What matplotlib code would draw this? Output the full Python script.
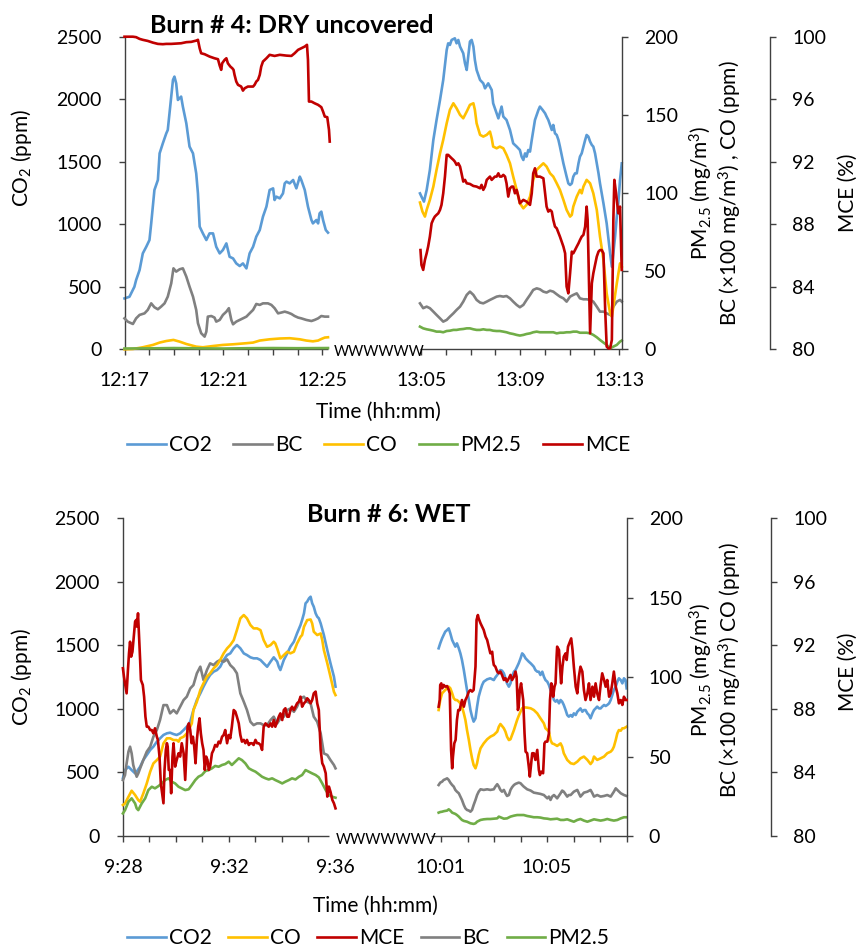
import numpy as np
import matplotlib
matplotlib.use("Agg")
import matplotlib.pyplot as plt

plt.rcParams["font.family"] = ["Lato", "DejaVu Sans"]
plt.rcParams["mathtext.fontset"] = "custom"
plt.rcParams["mathtext.rm"] = "Lato"
plt.rcParams["mathtext.it"] = "Lato:italic"
plt.rcParams["mathtext.bf"] = "Lato:bold"
plt.rcParams["mathtext.default"] = "regular"

C_CO2, C_BC, C_CO, C_PM, C_MCE = "#5B9BD5", "#808080", "#FFC000", "#70AD47", "#C00000"
AXIS_C = "#404040"
LW = 1.9
FS = 14        # tick labels
FS_T = 15      # axis titles and legend

# The second sampling window of each burn is drawn GAP minutes after the first window start
GAP = 12

# ---------------- Burn #4 (DRY uncovered) ----------------
# window A starts 12:17, window B starts 13:05 (minutes since window start)
b4a_t_co2 = [0, 0.2, 0.4, 0.47, 0.61, 0.74, 0.88, 1.01, 1.08, 1.21, 1.35, 1.42, 1.55, 1.69, 1.75, 1.89, 1.96, 2.02,
             2.09, 2.16, 2.29, 2.36, 2.5, 2.63, 2.77, 2.9, 2.97, 3.04, 3.17, 3.31, 3.44, 3.58, 3.71, 3.85, 3.98, 4.12,
             4.25, 4.39, 4.52, 4.66, 4.79, 4.93, 5.06, 5.2, 5.33, 5.47, 5.6, 5.74, 5.87, 6.01, 6.07, 6.14, 6.28, 6.41,
             6.48, 6.55, 6.68, 6.82, 6.95, 7.09, 7.15, 7.29, 7.42, 7.56, 7.62, 7.76, 7.83, 7.89, 7.96, 8.03, 8.14, 8.23]
b4a_co2 = [407, 420, 500, 554, 634, 767, 820, 874, 1007, 1274, 1354, 1567, 1647, 1727, 1754, 2021, 2154, 2181,
           2127, 1994, 2021, 1941, 1807, 1621, 1567, 1407, 1247, 981, 927, 874, 927, 927, 820, 767, 794, 847,
           740, 727, 687, 666, 687, 647, 767, 820, 901, 954, 1061, 1141, 1274, 1287, 1194, 1221, 1207, 1247,
           1327, 1341, 1327, 1354, 1287, 1381, 1354, 1274, 1141, 1034, 1007, 1034, 1007, 1087, 1101, 1034, 954, 933]

b4a_t_bc = [0, 0.13, 0.34, 0.47, 0.61, 0.81, 0.94, 1.08, 1.21, 1.35, 1.48, 1.62, 1.75, 1.89, 1.98, 2.09, 2.23, 2.36,
            2.5, 2.63, 2.77, 2.9, 2.97, 3.1, 3.24, 3.31, 3.37, 3.51, 3.64, 3.71, 3.85, 3.98, 4.12, 4.22, 4.32, 4.39,
            4.52, 4.66, 4.79, 4.93, 5.06, 5.2, 5.33, 5.47, 5.6, 5.8, 5.94, 6.07, 6.21, 6.34, 6.48, 6.61, 6.75, 6.88,
            7.02, 7.15, 7.35, 7.56, 7.69, 7.83, 7.96, 8.1, 8.23]
b4a_bc = [19.8, 17.7, 16.2, 19.8, 22, 23, 25.2, 29.4, 26.9, 25.6, 27.3, 29.4, 33.7, 42.2, 51.8, 49.7, 51.2, 51.8,
          46.5, 40.1, 33.7, 25.2, 16.7, 10.3, 8.1, 11.3, 20.9, 21.3, 20.3, 17.7, 18.8, 22, 24.1, 26.3, 18.8, 16,
          17.7, 18.8, 19.8, 20.9, 23, 25.2, 29, 28.4, 29.4, 29.4, 28.4, 26.3, 23, 23.5, 24.1, 23.5, 22.6, 21.3,
          20.3, 19.8, 18.8, 18.1, 18.8, 19.8, 21.3, 20.9, 20.9]

b4a_t_co = [0, 0.34, 0.74, 1.15, 1.42, 1.69, 1.98, 2.23, 2.5, 2.9, 3.17, 3.58, 3.98, 4.39, 4.93, 5.2, 5.47, 5.87,
            6.28, 6.68, 7.09, 7.35, 7.62, 7.83, 7.96, 8.1, 8.23]
b4a_co = [0, 0.2, 1.3, 2.8, 4.3, 5.3, 6.0, 4.9, 3.4, 1.7, 1.3, 2.1, 2.8, 3.2, 3.9, 4.3, 5.6, 6.4,
          6.9, 7.1, 6.4, 5.6, 5.1, 5.6, 6.6, 7.5, 7.7]

b4a_t_pm = [0, 1, 2, 3, 4, 5, 6, 7, 8.23]
b4a_pm = [0.5, 0.6, 0.8, 0.6, 0.5, 0.7, 0.8, 0.7, 0.8]

b4a_t_mce = [0, 0.13, 0.34, 0.47, 0.61, 0.74, 0.94, 1.15, 1.35, 1.55, 1.69, 1.89, 2.09, 2.29, 2.5, 2.7, 2.9, 2.97,
             3.04, 3.1, 3.24, 3.44, 3.64, 3.78, 3.85, 3.91, 3.95, 4.05, 4.12, 4.18, 4.28, 4.36, 4.41, 4.45, 4.52,
             4.59, 4.72, 4.79, 4.86, 4.99, 5.2, 5.26, 5.33, 5.4, 5.47, 5.53, 5.6, 5.74, 5.87, 6.07, 6.28, 6.55,
             6.75, 6.88, 7.02, 7.15, 7.29, 7.38, 7.42, 7.46, 7.56, 7.69, 7.83, 7.96, 8.03, 8.1, 8.2, 8.27, 8.3]
b4a_mce = [100.0, 100.0, 100.0, 99.97, 99.86, 99.8, 99.73, 99.62, 99.54, 99.52, 99.54, 99.54, 99.56, 99.58, 99.65,
           99.67, 99.75, 99.8, 99.26, 98.94, 98.88, 98.73, 98.62, 98.56, 98.15, 97.88, 98.3, 98.52, 98.62, 98.3,
           98.09, 97.98, 97.88, 97.56, 97.13, 96.92, 96.81, 96.55, 96.7, 96.81, 96.81, 96.92, 97.13, 97.24, 97.56,
           98.09, 98.41, 98.62, 98.84, 98.77, 98.84, 98.79, 98.77, 98.94, 99.16, 99.26, 99.37, 99.48, 98.52,
           95.85, 95.85, 95.74, 95.64, 95.49, 95.21, 94.89, 94.85, 94.04, 93.29]

b4b_t_co2 = [-0.05, 0.01, 0.11, 0.22, 0.35, 0.49, 0.62, 0.76, 0.89, 1.03, 1.09, 1.16, 1.23, 1.36, 1.43, 1.5, 1.57,
             1.7, 1.77, 1.84, 1.9, 1.97, 2.04, 2.11, 2.17, 2.24, 2.31, 2.38, 2.51, 2.58, 2.71, 2.85, 2.91, 3.05,
             3.12, 3.25, 3.32, 3.45, 3.59, 3.72, 3.86, 3.99, 4.06, 4.13, 4.2, 4.26, 4.33, 4.4, 4.47, 4.6, 4.74,
             4.8, 4.91, 5.01, 5.07, 5.14, 5.28, 5.34, 5.41, 5.48, 5.55, 5.61, 5.75, 5.88, 5.95, 6.02, 6.09, 6.15,
             6.22, 6.29, 6.36, 6.42, 6.49, 6.63, 6.69, 6.76, 6.83, 6.9, 6.96, 7.03, 7.1, 7.17, 7.23, 7.3, 7.37,
             7.5, 7.64, 7.71, 7.77, 7.84, 7.91, 7.97, 8.04, 8.11]
b4b_co2 = [1247, 1221, 1181, 1274, 1434, 1674, 1834, 1994, 2154, 2394, 2447, 2434, 2474, 2487, 2447, 2474, 2421,
           2367, 2287, 2234, 2341, 2461, 2474, 2421, 2314, 2234, 2194, 2154, 2127, 2087, 2127, 2074, 1967, 1887,
           1847, 1941, 1861, 1834, 1754, 1647, 1621, 1594, 1541, 1514, 1567, 1541, 1594, 1581, 1674, 1834, 1914,
           1941, 1914, 1887, 1861, 1834, 1754, 1794, 1727, 1714, 1674, 1621, 1487, 1381, 1327, 1314, 1327, 1381,
           1407, 1407, 1487, 1541, 1567, 1674, 1714, 1701, 1661, 1634, 1621, 1567, 1487, 1407, 1327, 1247, 1167,
           1007, 767, 660, 767, 901, 1061, 1167, 1354, 1487]

b4b_t_co = [-0.05, 0.05, 0.15, 0.22, 0.35, 0.49, 0.62, 0.76, 0.89, 1.03, 1.16, 1.3, 1.43, 1.57, 1.7, 1.84, 1.97,
            2.11, 2.17, 2.24, 2.38, 2.51, 2.65, 2.78, 2.85, 2.91, 3.05, 3.18, 3.32, 3.45, 3.59, 3.72, 3.86, 3.99,
            4.13, 4.26, 4.4, 4.53, 4.67, 4.8, 4.94, 5.07, 5.21, 5.34, 5.48, 5.61, 5.75, 5.88, 6.02, 6.09, 6.15,
            6.29, 6.42, 6.49, 6.56, 6.69, 6.83, 6.96, 7.1, 7.23, 7.37, 7.5, 7.64, 7.71, 7.77, 7.91, 8.04, 8.11]
b4b_co = [93.9, 88.1, 84.9, 89.2, 95.6, 104.1, 114.8, 125.4, 134, 144.6, 153.2, 157.4, 154.2, 150, 147.8, 152.1,
          156.4, 157.4, 153.2, 144.6, 137.2, 136.1, 137.2, 139.3, 135, 129.7, 128.6, 129.7, 128.6, 124.4, 119,
          110.5, 102, 93.4, 90.2, 92.4, 97.7, 108.4, 114.8, 116.9, 119, 116.9, 112.6, 110.5, 106.2, 102, 95.6,
          89.2, 84.9, 86, 91.3, 97.7, 102, 99.8, 104.1, 108.4, 106.2, 99.8, 89.2, 72.1, 57.2, 35.8, 23, 20.9,
          27.3, 42.2, 55, 52.9]

b4b_t = [-0.05, 0.08, 0.22, 0.35, 0.49, 0.62, 0.76, 0.89, 1.03, 1.16, 1.3, 1.43, 1.57, 1.7, 1.84, 1.97, 2.11,
         2.24, 2.38, 2.51, 2.65, 2.78, 2.91, 3.05, 3.18, 3.32, 3.45, 3.59, 3.72, 3.86, 3.99, 4.13, 4.26, 4.4,
         4.53, 4.67, 4.8, 4.94, 5.07, 5.21, 5.34, 5.48, 5.61, 5.75, 5.88, 6.02, 6.15, 6.29, 6.42, 6.56, 6.69,
         6.83, 6.96, 7.1, 7.23, 7.37, 7.5, 7.64, 7.77, 7.91, 8.04, 8.11]
b4b_bc = [29.4, 26.3, 27.3, 26.3, 24.1, 22, 19.8, 17.7, 18.8, 20.9, 23, 25.2, 27.3, 30.5, 34.8, 36.9, 34.8, 31.6,
          29.9, 29.4, 30.5, 31.6, 32.6, 33.7, 34.1, 33.7, 34.1, 32.6, 30.5, 28.4, 26.9, 28.4, 31.6, 34.8, 38, 39,
          38.4, 36.9, 36.3, 37.5, 36.9, 35.2, 33.7, 32.6, 30.5, 33.7, 34.8, 35.8, 32.6, 32, 32, 31.6, 30.5, 27.3,
          24.1, 24.1, 23, 22, 27.3, 30.5, 31.6, 30.5]
b4b_pm = [14.5, 13.4, 12.8, 12.4, 11.9, 11.3, 11.3, 10.9, 11.7, 11.9, 12.4, 12.4, 12.8, 13.0, 13.4, 13.4, 12.8,
          12.4, 12.4, 12.8, 12.4, 12.4, 11.9, 11.7, 11.7, 11.3, 10.9, 10.2, 9.8, 9.2, 8.8, 9.2, 9.8, 10.2, 10.9,
          11.3, 10.9, 10.9, 10.9, 10.9, 10.9, 10.2, 10.6, 10.6, 10.9, 10.9, 11.3, 11.3, 10.6, 10.6, 10.6, 10.2,
          9.2, 7.7, 6.0, 4.3, 2.8, 0.6, 1.7, 2.8, 4.9, 5.6]

b4b_t_mce = [-0.03, 0.01, 0.08, 0.15, 0.22, 0.28, 0.35, 0.42, 0.49, 0.55, 0.62, 0.69, 0.76, 0.82, 0.89, 0.96,
             1.03, 1.09, 1.16, 1.23, 1.3, 1.36, 1.43, 1.5, 1.57, 1.63, 1.7, 1.77, 1.84, 1.97, 2.11, 2.24, 2.38,
             2.44, 2.51, 2.58, 2.65, 2.78, 2.85, 2.98, 3.05, 3.12, 3.18, 3.25, 3.32, 3.39, 3.45, 3.52, 3.59, 3.66,
             3.72, 3.79, 3.86, 3.93, 3.99, 4.06, 4.13, 4.26, 4.4, 4.47, 4.53, 4.6, 4.67, 4.8, 4.94, 5.01, 5.07,
             5.14, 5.21, 5.28, 5.34, 5.41, 5.48, 5.61, 5.75, 5.82, 5.88, 5.95, 6.02, 6.09, 6.15, 6.22, 6.29, 6.36,
             6.42, 6.49, 6.56, 6.63, 6.69, 6.73, 6.76, 6.83, 6.9, 6.96, 7.03, 7.1, 7.17, 7.23, 7.3, 7.37, 7.44,
             7.5, 7.57, 7.64, 7.71, 7.77, 7.81, 7.88, 7.97, 8.04, 8.11]
b4b_mce = [86.35, 85.4, 85.08, 85.72, 86.14, 86.57, 87.21, 88.06, 88.32, 88.49, 88.6, 88.7, 88.92, 89.24, 89.98,
           91.05, 92.44, 92.44, 92.33, 92.22, 92.12, 92.01, 91.8, 91.9, 91.69, 91.26, 90.73, 90.84, 90.62, 90.58,
           90.45, 90.41, 90.3, 90.52, 90.2, 90.41, 90.84, 91.05, 90.84, 91.05, 91.05, 91.26, 91.05, 91.05, 91.16,
           91.05, 90.62, 89.77, 90.3, 90.41, 90.41, 89.98, 90.2, 89.77, 89.34, 89.45, 89.56, 89.45, 89.24, 89.98,
           91.26, 91.58, 91.05, 91.05, 90.94, 89.98, 89.13, 88.81, 88.92, 88.81, 88.28, 87.85, 87.74, 87.21,
           86.57, 86.14, 84.01, 83.58, 84.86, 86.25, 86.14, 86.35, 86.57, 86.78, 86.99, 87.21, 87.32, 87.85,
           89.13, 88.28, 86.14, 81.02, 84.22, 84.86, 85.4, 85.93, 86.25, 86.35, 86.35, 86.14, 82.52, 80.17,
           80.06, 80.06, 80.6, 88.28, 90.84, 89.98, 88.7, 89.13, 85.08]

# ---------------- Burn #6 (WET) ----------------
# window A starts 9:28, window B starts 10:01
b6a_t_co2 = [0, 0.08, 0.21, 0.33, 0.46, 0.52, 0.65, 0.77, 0.9, 1.03, 1.15, 1.28, 1.4, 1.53, 1.66, 1.78, 1.91,
             2.03, 2.16, 2.29, 2.41, 2.54, 2.66, 2.79, 2.92, 3.04, 3.17, 3.29, 3.42, 3.55, 3.67, 3.8, 3.93, 4.05,
             4.18, 4.3, 4.43, 4.56, 4.68, 4.81, 4.93, 5.06, 5.19, 5.31, 5.44, 5.57, 5.69, 5.82, 5.88, 5.94, 6.07,
             6.2, 6.32, 6.45, 6.57, 6.7, 6.76, 6.83, 6.89, 6.95, 7.02, 7.08, 7.14, 7.2, 7.27, 7.33, 7.39, 7.46,
             7.58, 7.71, 7.83, 7.96, 8.02]
b6a_co2 = [454, 519, 545, 519, 493, 506, 545, 598, 637, 677, 703, 742, 768, 795, 808, 813, 802, 795, 808, 834,
           860, 900, 991, 1070, 1122, 1175, 1227, 1267, 1293, 1306, 1332, 1385, 1424, 1437, 1477, 1503, 1477,
           1437, 1424, 1406, 1398, 1398, 1385, 1359, 1332, 1372, 1406, 1372, 1332, 1306, 1385, 1437, 1490, 1529,
           1595, 1660, 1700, 1752, 1831, 1844, 1870, 1883, 1831, 1804, 1752, 1726, 1713, 1673, 1582, 1463, 1359,
           1254, 1175]

b6a_t_co = [0, 0.08, 0.21, 0.33, 0.46, 0.58, 0.65, 0.77, 0.9, 1.03, 1.15, 1.28, 1.4, 1.53, 1.66, 1.78, 1.91,
            2.03, 2.1, 2.16, 2.29, 2.41, 2.54, 2.6, 2.66, 2.79, 2.92, 3.04, 3.17, 3.29, 3.42, 3.55, 3.67, 3.8,
            3.93, 4.05, 4.18, 4.3, 4.43, 4.56, 4.68, 4.81, 4.93, 5.06, 5.19, 5.31, 5.44, 5.57, 5.69, 5.75, 5.82,
            5.94, 6.07, 6.2, 6.32, 6.45, 6.57, 6.7, 6.76, 6.83, 6.95, 7.08, 7.14, 7.2, 7.33, 7.46, 7.52, 7.58,
            7.71, 7.83, 7.96, 8.02]
b6a_co = [19.5, 20.5, 24.7, 28.5, 25.8, 22.6, 21.6, 26.8, 33.1, 40.5, 45.7, 47.8, 49.9, 58.3, 61.5, 61.5, 60.4,
          60.4, 59.4, 61.5, 62.5, 64.6, 68.8, 70.9, 79.3, 84.5, 91.9, 96.1, 100.3, 102.4, 105.5, 107.6, 110.8, 115,
          118.1, 120.2, 123.3, 129.6, 137, 139.1, 137, 132.8, 130.7, 130.7, 129.6, 123.3, 119.1, 120.2, 122.3,
          121.2, 118.1, 111.8, 113.9, 116, 115, 116, 121.2, 125.4, 126.5, 131.7, 135.9, 136.3, 133.8, 128.6,
          126.5, 127.5, 123.3, 117.1, 108.7, 100.3, 90.8, 88.7]

b6a_t_bc = [0, 0.08, 0.14, 0.21, 0.27, 0.33, 0.39, 0.46, 0.52, 0.58, 0.65, 0.77, 0.9, 1.03, 1.15, 1.28, 1.4,
            1.53, 1.66, 1.78, 1.91, 2.03, 2.16, 2.29, 2.41, 2.54, 2.66, 2.79, 2.92, 3.04, 3.17, 3.29, 3.42, 3.55,
            3.67, 3.8, 3.93, 4.05, 4.18, 4.3, 4.43, 4.56, 4.68, 4.81, 4.93, 5.06, 5.19, 5.31, 5.44, 5.57, 5.69,
            5.82, 5.94, 6.07, 6.2, 6.32, 6.45, 6.57, 6.7, 6.83, 6.95, 7.08, 7.2, 7.33, 7.46, 7.58, 7.71, 7.83,
            7.96, 8.02]
b6a_bc = [35.2, 38.4, 45.7, 53.1, 56.2, 52, 44.7, 40.5, 37.3, 39.4, 42.6, 47.8, 53.1, 56.2, 62.5, 66.7, 73, 82.4,
          82.4, 77.2, 79.3, 77.2, 81.4, 85.6, 87.7, 92.9, 95, 102.4, 106.6, 98.2, 104.5, 108.7, 107.6, 109.7,
          110.8, 109.7, 111.2, 107.6, 105.5, 102.4, 89.8, 84.5, 79.3, 71.9, 69.8, 70.9, 70.9, 69.8, 69.8, 73,
          75.1, 70.9, 74, 75.1, 79.3, 80.3, 78.2, 81.4, 86.6, 87.7, 84.5, 83.5, 75.1, 71.9, 64.6, 52, 51, 47.8,
          44.7, 42.6]

b6a_t_pm = [0, 0.08, 0.21, 0.33, 0.46, 0.52, 0.58, 0.71, 0.84, 0.96, 1.09, 1.21, 1.34, 1.47, 1.59, 1.72, 1.84,
            1.97, 2.1, 2.22, 2.35, 2.48, 2.6, 2.73, 2.85, 2.98, 3.11, 3.23, 3.36, 3.48, 3.61, 3.74, 3.86, 3.99,
            4.11, 4.24, 4.37, 4.49, 4.62, 4.75, 4.87, 5.0, 5.12, 5.25, 5.38, 5.5, 5.63, 5.75, 5.88, 6.01, 6.13,
            6.26, 6.38, 6.51, 6.64, 6.76, 6.89, 7.01, 7.14, 7.27, 7.39, 7.52, 7.65, 7.77, 7.9, 8.02]
b6a_pm = [14.2, 16.3, 21.6, 23.7, 20.5, 17.4, 16.3, 20.5, 23.7, 28.9, 31, 30, 31.4, 33.1, 35.2, 36.3, 34.2, 33.1,
          31, 30, 28.9, 29.4, 32.1, 35.2, 37.3, 38.4, 40.9, 41.5, 42.6, 44.1, 43.6, 44.7, 45.3, 46.8, 44.7, 46.8,
          48.9, 47.8, 45.7, 42.6, 41.5, 40.5, 39, 37.3, 36.3, 35.6, 36.3, 35.2, 34.2, 33.1, 34.2, 35.2, 36.3,
          35.6, 37.3, 38.4, 41.5, 40.5, 39.4, 38.4, 36.9, 33.1, 28.9, 25.8, 24.7, 24.1]

b6a_t_mce = [0, 0.04, 0.09, 0.14, 0.19, 0.23, 0.27, 0.31, 0.36, 0.41, 0.46, 0.5, 0.53, 0.57, 0.61, 0.65, 0.68,
             0.75, 0.8, 0.85, 0.9, 0.96, 1.03, 1.09, 1.15, 1.21, 1.28, 1.32, 1.38, 1.43, 1.48, 1.53, 1.57, 1.62,
             1.66, 1.69, 1.73, 1.78, 1.82, 1.87, 1.91, 1.97, 2.03, 2.1, 2.16, 2.22, 2.29, 2.35, 2.39, 2.44, 2.49,
             2.54, 2.59, 2.64, 2.69, 2.74, 2.79, 2.84, 2.89, 2.94, 2.99, 3.04, 3.09, 3.14, 3.19, 3.24, 3.29, 3.36,
             3.42, 3.48, 3.55, 3.61, 3.67, 3.74, 3.8, 3.86, 3.93, 3.99, 4.05, 4.11, 4.18, 4.24, 4.3, 4.37, 4.43,
             4.49, 4.56, 4.62, 4.68, 4.75, 4.81, 4.87, 4.93, 5.0, 5.06, 5.12, 5.19, 5.25, 5.31, 5.38, 5.44, 5.5,
             5.57, 5.63, 5.69, 5.75, 5.82, 5.88, 5.94, 6.01, 6.07, 6.13, 6.2, 6.26, 6.32, 6.38, 6.45, 6.51, 6.57,
             6.64, 6.7, 6.76, 6.83, 6.89, 6.95, 7.01, 7.08, 7.14, 7.2, 7.27, 7.33, 7.39, 7.46, 7.52, 7.58, 7.65,
             7.71, 7.77, 7.83, 7.9, 7.96, 8.02]
b6a_mce = [90.56, 90.03, 89.51, 88.98, 90.45, 91.5, 92.23, 91.29, 91.6, 92.55, 93.49, 93.6, 93.18, 94.02, 92.55,
           91.08, 89.82, 89.51, 88.77, 87.51, 86.88, 86.88, 86.67, 86.67, 86.46, 86.78, 86.25, 86.05, 85.0, 83.32,
           82.69, 82.06, 84.16, 85.42, 85.84, 85.63, 84.16, 84.16, 82.69, 85.0, 85.84, 84.37, 84.79, 85.21, 85.0,
           85.84, 85.21, 83.53, 85.0, 86.88, 87.09, 86.67, 85.84, 86.25, 85.63, 84.58, 86.05, 86.88, 87.41,
           86.46, 85.84, 85.42, 84.16, 85.0, 84.79, 84.16, 84.37, 85.21, 85.42, 85.73, 85.63, 85.94, 85.84,
           86.25, 86.36, 86.67, 85.84, 86.36, 86.15, 86.88, 87.93, 87.83, 87.51, 87.09, 86.36, 85.94, 86.05,
           85.84, 86.05, 85.73, 85.84, 85.84, 85.73, 86.05, 85.84, 85.84, 85.73, 85.42, 86.88, 87.09, 86.99,
           86.88, 87.09, 86.88, 87.3, 86.88, 87.2, 87.51, 87.72, 87.3, 87.93, 88.04, 87.51, 87.51, 87.93, 88.14,
           87.93, 88.14, 88.35, 88.46, 88.77, 88.14, 88.35, 88.46, 88.67, 88.56, 88.35, 88.56, 88.98, 89.09,
           88.35, 87.93, 85.42, 84.58, 84.37, 83.95, 82.48, 83.11, 82.79, 82.27, 82.06, 81.74]

b6b_t_co2 = [-0.09, -0.03, 0.04, 0.1, 0.16, 0.23, 0.29, 0.35, 0.42, 0.48, 0.54, 0.6, 0.67, 0.73, 0.79, 0.86,
             0.92, 0.98, 1.05, 1.11, 1.17, 1.23, 1.3, 1.36, 1.42, 1.49, 1.55, 1.61, 1.74, 1.86, 1.99, 2.05, 2.12,
             2.18, 2.24, 2.3, 2.37, 2.43, 2.49, 2.56, 2.62, 2.68, 2.75, 2.81, 2.87, 2.93, 3.0, 3.06, 3.12, 3.19,
             3.25, 3.31, 3.38, 3.44, 3.5, 3.56, 3.63, 3.69, 3.75, 3.82, 3.88, 3.94, 4.01, 4.07, 4.13, 4.19, 4.26,
             4.32, 4.38, 4.45, 4.51, 4.57, 4.63, 4.7, 4.76, 4.82, 4.89, 4.95, 5.01, 5.08, 5.14, 5.2, 5.26, 5.33,
             5.39, 5.45, 5.52, 5.58, 5.64, 5.71, 5.77, 5.83, 5.89, 5.96, 6.02, 6.08, 6.15, 6.21, 6.27, 6.34, 6.4,
             6.46, 6.52, 6.59, 6.65, 6.71, 6.78, 6.84, 6.9, 6.96, 7.0]
b6b_co2 = [1477, 1516, 1555, 1582, 1608, 1621, 1634, 1595, 1542, 1516, 1490, 1516, 1477, 1437, 1385, 1306, 1227,
           1149, 1070, 991, 939, 900, 926, 1018, 1096, 1149, 1188, 1214, 1233, 1241, 1227, 1248, 1267, 1293,
           1306, 1301, 1280, 1241, 1201, 1175, 1201, 1254, 1293, 1306, 1332, 1359, 1398, 1437, 1424, 1398, 1385,
           1372, 1359, 1346, 1332, 1306, 1293, 1293, 1267, 1293, 1254, 1227, 1214, 1188, 1149, 1123, 1070, 1057,
           1070, 1044, 1070, 1057, 1031, 991, 952, 939, 952, 939, 965, 952, 978, 991, 1004, 978, 991, 991, 965,
           952, 926, 965, 991, 1004, 1018, 1004, 1004, 1018, 1031, 1023, 1031, 1044, 1070, 1109, 1149, 1175,
           1214, 1241, 1227, 1201, 1241, 1227, 1162]

b6b_t_co = [-0.09, -0.03, 0.04, 0.1, 0.16, 0.23, 0.29, 0.35, 0.42, 0.48, 0.54, 0.6, 0.67, 0.73, 0.79, 0.86, 0.92,
            0.98, 1.05, 1.11, 1.17, 1.23, 1.3, 1.36, 1.42, 1.49, 1.61, 1.74, 1.86, 1.99, 2.12, 2.18, 2.24, 2.3,
            2.37, 2.43, 2.49, 2.56, 2.62, 2.68, 2.75, 2.81, 2.87, 2.93, 3.0, 3.06, 3.12, 3.25, 3.38, 3.5, 3.63,
            3.75, 3.88, 3.94, 4.01, 4.07, 4.13, 4.19, 4.26, 4.38, 4.51, 4.57, 4.63, 4.76, 4.89, 5.01, 5.14, 5.26,
            5.39, 5.52, 5.64, 5.71, 5.77, 5.89, 6.02, 6.15, 6.27, 6.4, 6.46, 6.52, 6.59, 6.65, 6.71, 6.78, 6.84,
            6.9, 7.0]
b6b_co = [79.3, 85.6, 89.8, 90.9, 91.9, 93, 94, 93, 89.8, 86.7, 85.6, 85.6, 84.6, 83.5, 81.4, 77.2, 73, 66.7,
          60.4, 54.2, 48.9, 44.7, 42.6, 45.8, 51, 55.2, 58.3, 60.9, 62.5, 63.6, 65.7, 68.8, 70.5, 69.3, 67.8,
          65.7, 62.5, 60.4, 60.9, 63.6, 66.7, 69.9, 73, 75.6, 78.3, 80.4, 81, 80.8, 80.4, 79.3, 77.2, 74.1, 70.9,
          67.8, 66.7, 65.7, 60.4, 58.3, 57.9, 56.7, 58.3, 56.2, 52.1, 47.9, 45.8, 45.3, 46.8, 48.9, 50, 47.9,
          45.3, 46.8, 50, 47.9, 48.9, 50, 52.1, 53.1, 54.2, 56.2, 60.4, 64.6, 66.7, 66.3, 67.8, 67.8, 68.8]

b6b_t_bc = [-0.09, -0.03, 0.04, 0.1, 0.16, 0.23, 0.29, 0.35, 0.42, 0.48, 0.54, 0.6, 0.67, 0.73, 0.79, 0.86, 0.92,
            0.98, 1.05, 1.11, 1.17, 1.23, 1.3, 1.36, 1.42, 1.49, 1.61, 1.74, 1.86, 1.99, 2.05, 2.12, 2.18, 2.24,
            2.3, 2.37, 2.43, 2.49, 2.56, 2.62, 2.68, 2.75, 2.81, 2.87, 2.93, 3.0, 3.06, 3.12, 3.25, 3.38, 3.5,
            3.63, 3.75, 3.88, 3.94, 4.01, 4.07, 4.13, 4.19, 4.26, 4.32, 4.38, 4.51, 4.57, 4.63, 4.76, 4.82, 4.89,
            5.01, 5.14, 5.2, 5.26, 5.39, 5.52, 5.64, 5.71, 5.77, 5.89, 6.02, 6.15, 6.27, 6.4, 6.52, 6.59, 6.65,
            6.78, 6.9, 7.0]
b6b_bc = [32.1, 33.6, 34.2, 35.3, 35.7, 36.3, 35.3, 33.6, 32.1, 31.1, 29.0, 27.9, 26.9, 24.8, 22.7, 19.5, 17.4,
          16.4, 16.0, 15.3, 16.4, 19.5, 22.7, 25.8, 27.9, 29.4, 29.0, 29.4, 29.0, 29.4, 31.1, 32.6, 31.1, 29.0,
          27.9, 29.0, 26.9, 25.2, 25.8, 29.0, 30.7, 32.1, 32.8, 33.2, 33.6, 33.2, 32.1, 31.1, 29.4, 28.6, 27.3,
          26.9, 26.5, 25.8, 24.8, 23.7, 24.8, 22.7, 24.8, 25.8, 24.8, 23.7, 26.9, 28.6, 27.9, 24.8, 25.8, 25.8,
          27.9, 29.0, 26.9, 24.8, 27.3, 27.9, 29.0, 26.9, 24.8, 25.8, 24.8, 25.2, 25.8, 24.8, 27.9, 30.0, 29.0,
          26.9, 25.8, 25.2]

b6b_t_pm = [-0.09, -0.03, 0.04, 0.1, 0.16, 0.23, 0.29, 0.35, 0.42, 0.48, 0.54, 0.6, 0.67, 0.73, 0.79, 0.86,
            0.98, 1.11, 1.23, 1.3, 1.36, 1.49, 1.61, 1.74, 1.86, 1.99, 2.12, 2.18, 2.24, 2.37, 2.49, 2.62, 2.75,
            2.87, 3.0, 3.12, 3.25, 3.38, 3.5, 3.63, 3.75, 3.88, 4.01, 4.13, 4.26, 4.38, 4.51, 4.63, 4.76, 4.89,
            5.01, 5.14, 5.26, 5.39, 5.52, 5.64, 5.77, 5.89, 6.02, 6.15, 6.27, 6.4, 6.52, 6.65, 6.78, 6.9, 7.0]
b6b_pm = [14.7, 15.1, 15.3, 15.6, 15.8, 16.0, 16.8, 16.0, 14.7, 14.3, 13.9, 13.2, 12.2, 11.1, 10.1, 9.5, 9.0,
          8.0, 7.6, 8.0, 9.0, 10.1, 10.5, 10.7, 10.7, 10.9, 11.1, 12.2, 11.8, 10.9, 11.1, 12.2, 12.8, 13.2, 13.2,
          13.2, 12.6, 12.2, 11.8, 11.8, 11.6, 11.1, 10.9, 10.5, 10.7, 10.9, 10.1, 10.1, 10.5, 9.7, 9.0, 10.1,
          10.7, 9.7, 9.0, 9.7, 10.5, 10.1, 9.7, 10.1, 10.7, 10.1, 9.7, 10.1, 11.1, 11.8, 11.8]

b6b_t_mce = [-0.09, -0.05, -0.03, 0.01, 0.05, 0.1, 0.16, 0.23, 0.29, 0.33, 0.35, 0.38, 0.42, 0.45, 0.5, 0.55,
             0.6, 0.65, 0.71, 0.73, 0.79, 0.86, 0.92, 0.98, 1.05, 1.11, 1.17, 1.23, 1.3, 1.34, 1.39, 1.42, 1.49,
             1.55, 1.61, 1.68, 1.74, 1.8, 1.86, 1.93, 1.96, 1.99, 2.05, 2.12, 2.18, 2.24, 2.3, 2.37, 2.43, 2.49,
             2.56, 2.62, 2.68, 2.75, 2.81, 2.85, 2.9, 2.93, 2.97, 3.02, 3.1, 3.15, 3.19, 3.25, 3.31, 3.35, 3.4,
             3.44, 3.5, 3.56, 3.63, 3.69, 3.73, 3.78, 3.85, 3.88, 3.9, 3.94, 4.01, 4.07, 4.11, 4.16, 4.19, 4.23,
             4.28, 4.32, 4.36, 4.38, 4.45, 4.48, 4.53, 4.58, 4.63, 4.7, 4.74, 4.79, 4.86, 4.91, 4.96, 5.01, 5.08,
             5.14, 5.2, 5.26, 5.33, 5.39, 5.45, 5.52, 5.58, 5.64, 5.71, 5.77, 5.83, 5.89, 5.96, 6.02, 6.08, 6.15,
             6.21, 6.27, 6.34, 6.4, 6.46, 6.52, 6.59, 6.65, 6.71, 6.78, 6.84, 6.9, 6.96, 7.0]
b6b_mce = [88.14, 88.56, 89.51, 89.61, 89.3, 89.51, 89.4, 89.44, 89.19, 88.98, 87.51, 85.42, 84.26, 84.99, 85.83,
           86.05, 87.3, 87.93, 87.93, 88.14, 88.56, 88.14, 88.56, 88.77, 89.09, 89.19, 89.09, 89.19, 90.66, 93.6,
           93.91, 93.7, 93.39, 93.18, 92.97, 92.55, 92.34, 91.92, 91.5, 91.6, 91.08, 90.77, 90.66, 90.35, 90.24,
           90.35, 90.14, 89.82, 89.93, 89.72, 89.93, 90.14, 89.82, 90.03, 90.35, 90.03, 87.93, 88.14, 89.19,
           89.61, 88.56, 86.46, 85.31, 85.21, 84.37, 83.74, 84.58, 85.21, 85.21, 84.79, 85.42, 84.16, 83.84,
           84.05, 83.95, 84.99, 85.83, 85.94, 85.94, 86.46, 88.56, 89.61, 89.4, 88.77, 89.4, 89.61, 91.29, 91.92,
           91.71, 90.87, 89.61, 90.66, 91.29, 91.5, 91.08, 91.92, 92.23, 92.44, 91.71, 90.66, 89.4, 88.98, 90.03,
           90.66, 90.35, 89.19, 88.56, 88.98, 89.61, 88.56, 89.4, 88.77, 89.61, 88.98, 88.56, 89.51, 90.24,
           89.82, 89.4, 89.82, 88.77, 88.98, 89.61, 90.35, 89.4, 88.98, 88.35, 88.56, 88.25, 88.77, 88.56, 88.56]

# ---------------- figure ----------------
W, H = 859, 947
fig = plt.figure(figsize=(W / 100, H / 100), dpi=100)


def rect_px(left, top, right, bottom):
    return [left / W, 1 - bottom / H, (right - left) / W, (bottom - top) / H]


def fx(x):
    return x / W


def fy(y):
    return 1 - y / H


def draw_burn(rect, xmax, tick_locs, tick_text, no_mark, axis_runs, brk_text, brk_x, brk_dy,
              mce_pos, win_a, win_b):
    ax = fig.add_axes(rect)
    ax2 = ax.twinx()
    ax3 = ax.twinx()

    lines = {}
    for win, off in ((win_a, 0), (win_b, GAP)):
        t, v = win["CO2"]
        lines["CO2"], = ax.plot(np.asarray(t) + off, v, color=C_CO2, lw=LW, clip_on=False)
        for key, col in (("BC", C_BC), ("CO", C_CO), ("PM2.5", C_PM)):
            t, v = win[key]
            lines[key], = ax2.plot(np.asarray(t) + off, v, color=col, lw=LW, clip_on=False)
        t, v = win["MCE"]
        lines["MCE"], = ax3.plot(np.asarray(t) + off, v, color=C_MCE, lw=LW, clip_on=False)

    ax.set_xlim(0, xmax)
    ax.set_ylim(0, 2500)
    ax2.set_ylim(0, 200)
    ax3.set_ylim(80, 100)
    ax.set_yticks(np.arange(0, 2501, 500))
    ax2.set_yticks(np.arange(0, 201, 50))
    ax3.set_yticks(np.arange(80, 101, 4))

    ax.set_xticks(tick_locs)
    ax.set_xticklabels([tick_text.get(k, "") for k in tick_locs])
    for tk, loc in zip(ax.xaxis.get_major_ticks(), tick_locs):
        if loc in no_mark:
            tk.tick1line.set_visible(False)

    for a in (ax, ax2, ax3):
        for s in a.spines.values():
            s.set_visible(False)
            s.set_color(AXIS_C)
            s.set_linewidth(1.0)
    ax.spines["left"].set_visible(True)
    ax2.spines["right"].set_visible(True)
    ax3.spines["right"].set_visible(True)
    ax3.spines["right"].set_position(("axes", mce_pos))

    ax.tick_params(axis="y", direction="out", length=4.5, width=1, color=AXIS_C, labelsize=FS, pad=12)
    ax2.tick_params(axis="y", direction="out", length=4.5, width=1, color=AXIS_C, labelsize=FS, pad=11.5)
    ax3.tick_params(axis="y", direction="out", length=4.5, width=1, color=AXIS_C, labelsize=FS, pad=11.5)
    ax.tick_params(axis="x", direction="out", length=4.5, width=1, color=AXIS_C, labelsize=FS, pad=12)

    # broken time axis
    for x0, x1 in axis_runs:
        ax.hlines(0, x0, x1, color=AXIS_C, lw=1.0, clip_on=False, zorder=1)
    ax.text(brk_x, brk_dy, brk_text, transform=ax.get_xaxis_transform(), ha="left", va="center",
            fontsize=10.5, color="black")
    return lines


win4a = {"CO2": (b4a_t_co2, b4a_co2), "BC": (b4a_t_bc, b4a_bc), "CO": (b4a_t_co, b4a_co),
         "PM2.5": (b4a_t_pm, b4a_pm), "MCE": (b4a_t_mce, b4a_mce)}
win4b = {"CO2": (b4b_t_co2, b4b_co2), "BC": (b4b_t, b4b_bc), "CO": (b4b_t_co, b4b_co),
         "PM2.5": (b4b_t, b4b_pm), "MCE": (b4b_t_mce, b4b_mce)}
win6a = {"CO2": (b6a_t_co2, b6a_co2), "BC": (b6a_t_bc, b6a_bc), "CO": (b6a_t_co, b6a_co),
         "PM2.5": (b6a_t_pm, b6a_pm), "MCE": (b6a_t_mce, b6a_mce)}
win6b = {"CO2": (b6b_t_co2, b6b_co2), "BC": (b6b_t_bc, b6b_bc), "CO": (b6b_t_co, b6b_co),
         "PM2.5": (b6b_t_pm, b6b_pm), "MCE": (b6b_t_mce, b6b_mce)}

ticks4 = list(range(0, 9)) + list(range(12, 21))
labels4 = {0: "12:17", 4: "12:21", 8: "12:25", 12: "13:05", 16: "13:09", 20: "13:13"}
ticks6 = list(range(0, 9)) + list(range(12, 20))
labels6 = {0: "9:28", 4: "9:32", 8: "9:36", 12: "10:01", 16: "10:05"}

l4 = draw_burn(rect_px(124.5, 36.7, 622, 349.3), 20.12, ticks4, labels4, [], [(0, 8.25), (11.97, 20.12)],
               "WWWWWW", 8.45, -0.01, 1.2975, win4a, win4b)
l6 = draw_burn(rect_px(122.9, 518.3, 626.6, 836), 19.0, ticks6, labels6, [8], [(0, 7.78), (11.63, 19.0)],
               "WWWWWWV", 8.03, -0.013, 1.287, win6a, win6b)

# titles
fig.text(fx(291.5), fy(33), "Burn # 4: DRY uncovered", ha="center", va="baseline", fontsize=18, fontweight="bold")
fig.text(fx(389), fy(521.5), "Burn # 6: WET", ha="center", va="baseline", fontsize=18, fontweight="bold")

# axis titles
for yc_l, yc_r, yc_m, line2 in ((158, 193, 193, "BC (×100 mg/m$^{3}$) , CO (ppm)"),
                                (677, 670, 672, "BC (×100 mg/m$^{3}$) CO (ppm)")):
    fig.text(fx(22), fy(yc_l), "CO$_{2}$ (ppm)", rotation=90, ha="center", va="center", fontsize=FS_T)
    fig.text(fx(701.7), fy(yc_r), "PM$_{2.5}$ (mg/m$^{3}$)", rotation=90, ha="center", va="center", fontsize=FS_T)
    fig.text(fx(730), fy(yc_r), line2, rotation=90, ha="center", va="center", fontsize=FS_T)
    fig.text(fx(848), fy(yc_m), "MCE (%)", rotation=90, ha="center", va="center", fontsize=FS_T)

fig.text(fx(378), fy(412), "Time (hh:mm)", ha="center", va="center", fontsize=FS_T)
fig.text(fx(375), fy(906), "Time (hh:mm)", ha="center", va="center", fontsize=FS_T)

# legends
order4 = ["CO2", "BC", "CO", "PM2.5", "MCE"]
order6 = ["CO2", "CO", "MCE", "BC", "PM2.5"]
leg_kw = dict(ncol=5, frameon=False, fontsize=FS_T, handlelength=1.85, handletextpad=0.15,
              borderpad=0, borderaxespad=0, loc="center left")
fig.legend([l4[k] for k in order4], order4, bbox_to_anchor=(fx(127), fy(445)), columnspacing=1.05, **leg_kw)
fig.legend([l6[k] for k in order6], order6, bbox_to_anchor=(fx(127), fy(938)), columnspacing=0.8, **leg_kw)

fig.savefig("out.png", dpi=100)
